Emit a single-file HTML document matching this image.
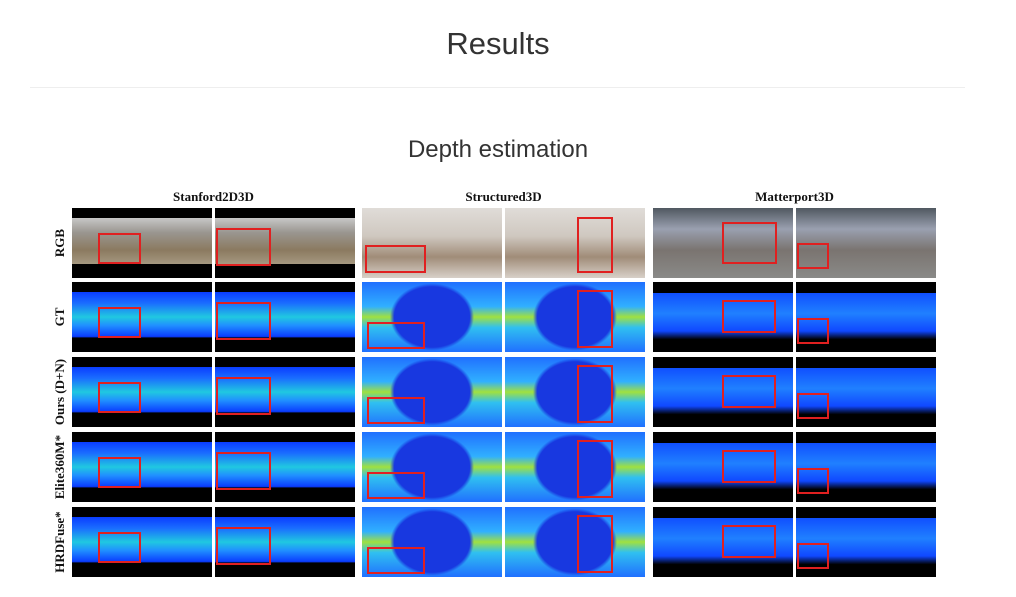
<!DOCTYPE html>
<html><head><meta charset="utf-8"><style>
body{margin:0;width:1016px;height:597px;background:#fff;position:relative;overflow:hidden;font-family:"Liberation Sans","DejaVu Sans",sans-serif}
.a{position:absolute}
h1{position:absolute;left:0;width:996px;top:26px;margin:0;text-align:center;font-weight:normal;font-size:31px;color:#333}
h2{position:absolute;left:0;width:996px;top:136px;margin:0;text-align:center;font-weight:normal;font-size:24px;color:#333}
.hr{left:30px;top:87px;width:935px;height:1px;background:#eee}
.ch{position:absolute;top:189px;font-family:"Liberation Serif",serif;font-weight:bold;font-size:13px;color:#111;text-align:center;width:283px}
.rl{position:absolute;left:25px;width:70px;height:16px;line-height:16px;font-family:"Liberation Serif",serif;font-weight:bold;font-size:13px;text-align:center;transform:rotate(-90deg);transform-origin:center;color:#111;white-space:nowrap;z-index:5}
.im{position:absolute;width:140px;height:70px;overflow:hidden}
.b{position:absolute;border:2px solid #e02020;box-sizing:border-box}
.srgb{background:linear-gradient(#000 0 14%,#c8c8c8 14%,#9a9690 35%,#8b7a60 60%,#a59880 80%,#000 80%)}
.sd{background:linear-gradient(#000 0 14%,#0a3cff 14%,#1a6cff 30%,#20c8e0 50%,#2090ff 62%,#0a3cff 78%,#000 80%)}
.trgb{background:linear-gradient(#e0dcd8,#cfc8c0 40%,#a08c78 70%,#d8d0c8)}
.td{background:radial-gradient(ellipse 30% 48% at 50% 50%,#1838e0 0 90%,transparent 100%),linear-gradient(#2070ff,#30b0ff 35%,#a0e040 50%,#30c0f0 65%,#2070ff)}
.mrgb{background:linear-gradient(#505860,#9aa0b0 30%,#7a7470 60%,#8a8a88)}
.md{background:linear-gradient(#000 0 16%,#1050ff 16%,#2080ff 45%,#1048ff 70%,#000 82%)}
</style></head><body>
<h1>Results</h1>
<div class="a hr"></div>
<h2>Depth estimation</h2>
<div class="ch" style="left:72px">Stanford2D3D</div>
<div class="ch" style="left:362px">Structured3D</div>
<div class="ch" style="left:653px">Matterport3D</div>
<div class="rl" style="top:235px">RGB</div>
<div class="rl" style="top:309px">GT</div>
<div class="rl" style="top:384px">Ours (D+N)</div>
<div class="rl" style="top:459px">Elite360M*</div>
<div class="rl" style="top:534px">HRDFuse*</div>
<div id="g"></div>
<script>
var cols=[72,215,362,505,653,796],rows=[208,282,357,432,507];
var boxes=[
 [[26,25,43,31],[26,25,43,31]],
 [[1,20,55,38],[1,20,55,38]],
 [[3,37,61,28],[5,40,58,27]],
 [[72,9,36,56],[72,8,36,58]],
 [[69,14,55,42],[69,18,54,33]],
 [[1,35,32,26],[1,36,32,26]]];
var cls=[['srgb','sd'],['srgb','sd'],['trgb','td'],['trgb','td'],['mrgb','md'],['mrgb','md']];
var h='';
for(var c=0;c<6;c++)for(var r=0;r<5;r++){
 var k=cls[c][r?1:0],bx=boxes[c][r?1:0];
 h+='<div class="im '+k+'" style="left:'+cols[c]+'px;top:'+rows[r]+'px"><div class="b" style="left:'+bx[0]+'px;top:'+bx[1]+'px;width:'+bx[2]+'px;height:'+bx[3]+'px"></div></div>';
}
document.getElementById('g').innerHTML=h;
</script>
</body></html>
